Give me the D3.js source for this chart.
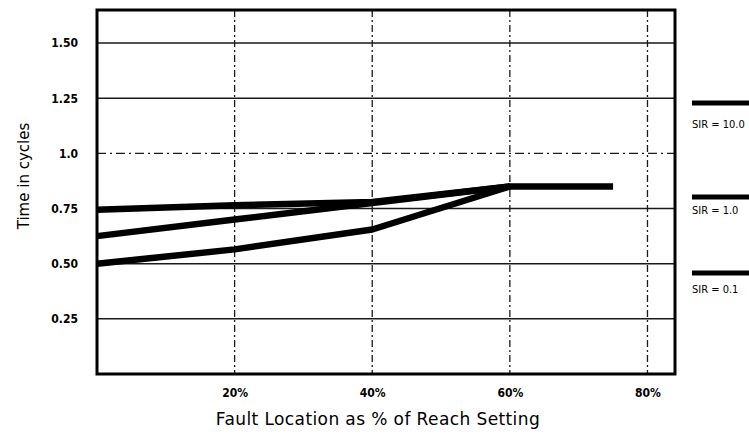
<!DOCTYPE html>
<html>
<head>
<meta charset="utf-8">
<script src="https://cdn.jsdelivr.net/npm/d3@7/dist/d3.min.js"></script>
<style>
  html, body { margin: 0; padding: 0; background: #fff; }
  svg { display: block; }
  .tick text { font-family: "DejaVu Sans Condensed", "DejaVu Sans", sans-serif; font-stretch: condensed; }
</style>
</head>
<body>
<svg id="chart" width="749" height="434"></svg>
<script>
// Fault location along the reach (percent of setting)
const faultLocations = [0, 20, 40, 60, 75];

// Operating time in cycles for each source-impedance ratio
const sir10 = [0.745, 0.765, 0.78, 0.85, 0.85];
const sir1 = [0.625, 0.70, 0.775, 0.85];
const sir01 = [0.50, 0.565, 0.655, 0.85];

const seriesNames = ["SIR = 10.0", "SIR = 1.0", "SIR = 0.1"];

// Axis ticks
const yTickValues = [0.25, 0.50, 0.75, 1.0, 1.25, 1.50];
const yTickLabels = ["0.25", "0.50", "0.75", "1.0", "1.25", "1.50"];
const xTickValues = [20, 40, 60, 80];
const xTickLabels = ["20%", "40%", "60%", "80%"];

const svg = d3.select("#chart");
const plotLeft = 97, plotRight = 675, plotTop = 10, plotBottom = 374;

const x = d3.scaleLinear().domain([0, 84]).range([plotLeft, plotRight]);
const y = d3.scaleLinear().domain([0, 1.65]).range([plotBottom, plotTop]);

// Horizontal grid: solid lines, with the 1.0 cycle reference dash-dotted
svg.append("g").selectAll("line")
  .data(yTickValues)
  .join("line")
  .attr("x1", plotLeft).attr("x2", plotRight)
  .attr("y1", d => y(d)).attr("y2", d => y(d))
  .attr("stroke", "#1a1a1a")
  .attr("stroke-width", d => d === 1.0 ? 1.3 : 1.5)
  .attr("stroke-dasharray", d => d === 1.0 ? "9,4,2,4" : null);

// Vertical grid: dash-dot lines at each fault location tick
svg.append("g").selectAll("line")
  .data(xTickValues)
  .join("line")
  .attr("x1", d => x(d)).attr("x2", d => x(d))
  .attr("y1", plotTop).attr("y2", plotBottom)
  .attr("stroke", "#1a1a1a")
  .attr("stroke-width", 1.3)
  .attr("stroke-dasharray", "7,3,2,3");

// Operating-time curves
const line = d3.line()
  .x((d, i) => x(faultLocations[i]))
  .y(d => y(d));

[sir10, sir1, sir01].forEach(vals => {
  svg.append("path")
    .datum(vals)
    .attr("d", line)
    .attr("fill", "none")
    .attr("stroke", "#000")
    .attr("stroke-width", 6.5)
    .attr("stroke-linejoin", "round");
});

// Plot frame
svg.append("rect")
  .attr("x", plotLeft).attr("y", plotTop)
  .attr("width", plotRight - plotLeft).attr("height", plotBottom - plotTop)
  .attr("fill", "none")
  .attr("stroke", "#000")
  .attr("stroke-width", 3);

// Axes
const yAxis = d3.axisLeft(y)
  .tickValues(yTickValues)
  .tickFormat((d, i) => yTickLabels[i])
  .tickSize(0)
  .tickPadding(19);
const gy = svg.append("g").attr("transform", `translate(${plotLeft},0)`).call(yAxis);
gy.select(".domain").remove();
gy.selectAll("text").attr("font-size", 12).attr("font-weight", "bold").attr("fill", "#000");

const xAxis = d3.axisBottom(x)
  .tickValues(xTickValues)
  .tickFormat((d, i) => xTickLabels[i])
  .tickSize(0)
  .tickPadding(14);
const gx = svg.append("g").attr("transform", `translate(0,${plotBottom})`).call(xAxis);
gx.select(".domain").remove();
gx.selectAll("text").attr("font-size", 12).attr("font-weight", "bold").attr("fill", "#000");

// Axis titles
svg.append("text")
  .attr("x", 378).attr("y", 425)
  .attr("text-anchor", "middle")
  .attr("font-family", "DejaVu Sans, sans-serif")
  .attr("font-size", 17)
  .attr("letter-spacing", 0.4)
  .attr("fill", "#000")
  .text("Fault Location as % of Reach Setting");

svg.append("text")
  .attr("transform", "translate(29,176) rotate(-90)")
  .attr("text-anchor", "middle")
  .attr("font-family", "DejaVu Sans, sans-serif")
  .attr("font-size", 15)
  .attr("fill", "#000")
  .text("Time in cycles");

// Legend outside the frame on the right
const legendLineY = [103, 197, 273];
const legendTextY = [128, 214, 293];
const legend = svg.append("g");
seriesNames.forEach((name, i) => {
  legend.append("line")
    .attr("x1", 692).attr("x2", 749)
    .attr("y1", legendLineY[i]).attr("y2", legendLineY[i])
    .attr("stroke", "#000").attr("stroke-width", 5);
  legend.append("text")
    .attr("x", 692).attr("y", legendTextY[i])
    .attr("font-family", "DejaVu Sans Condensed, sans-serif")
    .attr("font-stretch", "condensed")
    .attr("font-size", 11)
    .attr("fill", "#000")
    .text(name);
});
</script>
</body>
</html>
